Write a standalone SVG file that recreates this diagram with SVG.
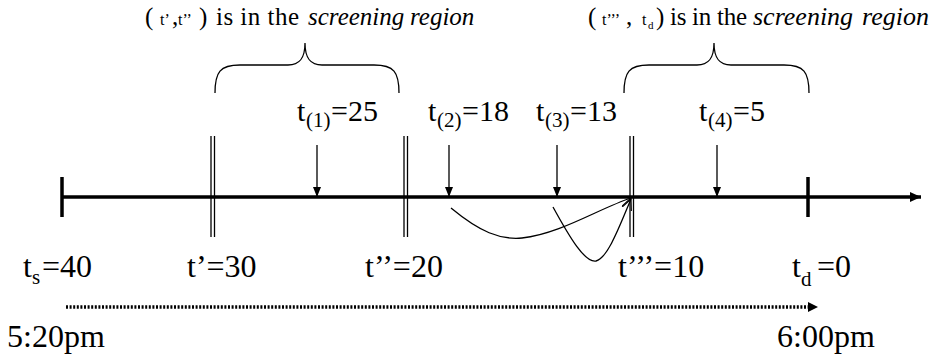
<svg xmlns="http://www.w3.org/2000/svg" width="934" height="358" viewBox="0 0 934 358" font-family="'Liberation Serif', 'Times New Roman', 'DejaVu Serif', serif">
<style>
  text, tspan { font-family: "Liberation Serif", "Times New Roman", "DejaVu Serif", serif; fill: #000; }
  .hdr { font-size: 25px; }
  .hsm { font-size: 16px; }
  .it { font-style: italic; }
  .lbl { font-size: 30px; }
  .sub { font-size: 21px; }
  .blb { font-size: 32px; }
  .bsub { font-size: 21px; }
  .axis { stroke: #000; stroke-width: 3.5; fill: none; }
  .dbl { stroke: #000; stroke-width: 1.3; fill: none; }
  .thin { stroke: #000; stroke-width: 1.3; fill: none; }
  .brace { stroke: #000; stroke-width: 1.3; fill: none; }
  .dots { stroke: #000; stroke-width: 3.5; stroke-dasharray: 2 1.6; fill: none; }
</style>
<defs>
  <marker id="solid" markerUnits="userSpaceOnUse" markerWidth="12" markerHeight="10" refX="11" refY="5" orient="auto">
    <path d="M0,0 L11,5 L0,10 z" fill="#000"/>
  </marker>
  <marker id="down" markerUnits="userSpaceOnUse" markerWidth="10" markerHeight="8" refX="10" refY="4" orient="auto">
    <path d="M0,0 L10,4 L0,8 z" fill="#000"/>
  </marker>
  <marker id="open" markerUnits="userSpaceOnUse" markerWidth="12" markerHeight="12" refX="11" refY="6" orient="auto">
    <path d="M0,1 L11,6 L0,11" fill="none" stroke="#000" stroke-width="1.2"/>
  </marker>
</defs>

<!-- header texts and braces -->
<g id="region1">
  <text class="hdr" y="25"><tspan x="145">(</tspan><tspan x="160" class="hsm">t’</tspan><tspan x="172">,</tspan><tspan x="178" class="hsm">t’’</tspan><tspan x="199">)</tspan><tspan x="216" textLength="83">is in the</tspan><tspan x="308" class="it">screening</tspan><tspan x="410" class="it">region</tspan></text>
  <path class="brace" d="M215,93 C215,72 220,65 240,65 L288,65 C300,65 305,58 305,43 C305,58 310,65 322,65 L374,65 C394,65 399,72 399,93"/>
</g>
<g id="region2">
  <text class="hdr" y="25"><tspan x="588">(</tspan><tspan x="602" class="hsm">t’’’</tspan><tspan x="626">,</tspan><tspan x="642" class="hsm">t</tspan><tspan x="648" y="29" style="font-size:11px">d</tspan><tspan x="656" y="25">)</tspan><tspan x="670" textLength="77">is in the</tspan><tspan x="753" class="it" style="font-size:26px">screening</tspan><tspan x="862" class="it" style="font-size:26px">region</tspan></text>
  <path class="brace" d="M624,93 C624,72 629,65 649,65 L697,65 C709,65 714,58 714,43 C714,58 719,65 731,65 L784,65 C804,65 809,72 809,93"/>
</g>

<!-- timeline -->
<g id="timeline">
  <line class="axis" x1="62" y1="197" x2="921" y2="197" marker-end="url(#solid)"/>
  <line class="axis" x1="62" y1="177" x2="62" y2="217"/>
  <line class="axis" x1="808" y1="177" x2="808" y2="217"/>
</g>

<!-- boundaries -->
<g id="t1">
  <line class="dbl" x1="211" y1="136" x2="211" y2="237"/>
  <line class="dbl" x1="214.5" y1="136" x2="214.5" y2="237"/>
</g>
<g id="t2">
  <line class="dbl" x1="404" y1="136" x2="404" y2="237"/>
  <line class="dbl" x1="407.5" y1="136" x2="407.5" y2="237"/>
</g>
<g id="t3">
  <line class="dbl" x1="630" y1="136" x2="630" y2="237"/>
  <line class="dbl" x1="633.5" y1="136" x2="633.5" y2="237"/>
</g>

<!-- event labels -->
<g id="e1"><text class="lbl" y="121"><tspan x="297">t</tspan><tspan x="306" y="127" class="sub">(1)</tspan><tspan x="331" y="121">=25</tspan></text></g>
<g id="e2"><text class="lbl" y="121"><tspan x="428">t</tspan><tspan x="437" y="127" class="sub">(2)</tspan><tspan x="462" y="121">=18</tspan></text></g>
<g id="e3"><text class="lbl" y="121"><tspan x="536">t</tspan><tspan x="545" y="127" class="sub">(3)</tspan><tspan x="570" y="121">=13</tspan></text></g>
<g id="e4"><text class="lbl" y="121"><tspan x="699">t</tspan><tspan x="708" y="127" class="sub">(4)</tspan><tspan x="733" y="121">=5</tspan></text></g>

<!-- bottom labels -->
<g id="ts"><text class="blb" y="277"><tspan x="23">t</tspan><tspan x="32" y="284" class="bsub">s</tspan><tspan x="42" y="277">=40</tspan></text></g>
<g id="tp"><text class="blb" x="187" y="277">t’=30</text></g>
<g id="tpp"><text class="blb" x="365" y="277">t’’=20</text></g>
<g id="tppp"><text class="blb" x="618" y="277">t’’’=10</text></g>
<g id="td"><text class="blb" y="277"><tspan x="792">t</tspan><tspan x="801" y="286" class="bsub">d</tspan><tspan x="817" y="277">=0</tspan></text></g>

<!-- time axis -->
<g id="time-axis">
  <line class="dots" x1="66" y1="307" x2="809" y2="307"/>
  <path d="M808,302 L818,307 L808,312 z" fill="#000"/>
  <text class="blb" x="7" y="347">5:20pm</text>
  <text class="blb" x="777" y="347">6:00pm</text>
</g>

<!-- connectors -->
<g id="connectors">
  <line class="thin" x1="317" y1="145" x2="317" y2="197" marker-end="url(#down)"/>
  <line class="thin" x1="449" y1="145" x2="449" y2="197" marker-end="url(#down)"/>
  <line class="thin" x1="557" y1="145" x2="557" y2="197" marker-end="url(#down)"/>
  <line class="thin" x1="717" y1="145" x2="717" y2="197" marker-end="url(#down)"/>
  <path class="thin" d="M451,208 C480,232 500,240 522,238 C560,234 600,208 631,198" marker-end="url(#open)"/>
  <path class="thin" d="M553,207 C570,238 585,263 596,261 C608,258 620,225 631,199" marker-end="url(#open)"/>
</g>
</svg>
